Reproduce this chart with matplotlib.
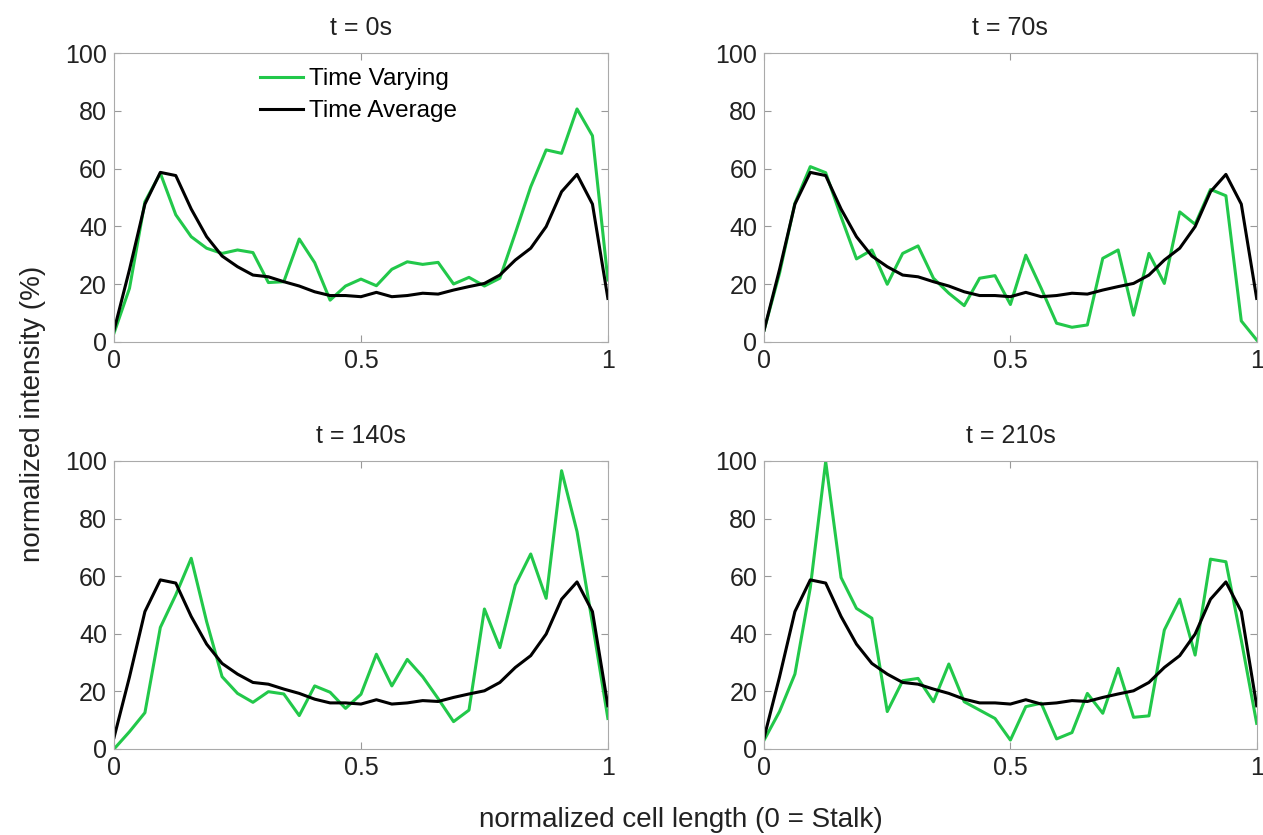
import numpy as np
import matplotlib
matplotlib.use("Agg")
from matplotlib import pyplot as plt

# 33 sample positions along the cell (0 = stalk)
x = np.linspace(0, 1, 33)

time_average = [4, 25, 47.7, 58.7, 57.6, 46, 36.4, 29.7, 26, 23.1, 22.5, 20.8, 19.3, 17.3, 16, 16,
                15.6, 17.1, 15.6, 16, 16.8, 16.5, 17.9, 19.1, 20.2, 23.1, 28.3, 32.4, 39.9, 52, 58, 47.7, 15]

t0 = [3, 18.5, 48.5, 58.4, 44, 36.4, 32.4, 30.6, 31.8, 30.9, 20.5, 20.8, 35.6, 27.4, 14.4, 19.3,
      21.7, 19.4, 25.1, 27.7, 26.8, 27.5, 20, 22.3, 19.3, 22, 37.6, 53.7, 66.5, 65.3, 80.7, 71.4, 21.4]
t70 = [4, 23.7, 48, 60.7, 58.6, 43.3, 28.7, 31.8, 19.9, 30.6, 33.2, 22, 16.8, 12.5, 22, 22.9,
       12.9, 30, 18.5, 6.4, 5, 5.8, 28.9, 31.8, 9.2, 30.6, 20.2, 45, 40.7, 52.8, 50.6, 7.2, 0.6]
t140 = [0, 6, 12.6, 42.2, 53.5, 66.2, 44.2, 25.1, 19.3, 16.2, 19.9, 19.1, 11.6, 21.9, 19.7, 14.1,
        19, 32.9, 21.9, 31.1, 25.1, 17.5, 9.5, 13.5, 48.6, 35.2, 56.9, 67.7, 52.3, 96.6, 75.5, 43.6, 10.6]
t210 = [3.1, 13, 26, 56, 99.8, 59.5, 48.8, 45.4, 13, 23.7, 24.5, 16.4, 29.5, 16.4, 13.5, 10.6,
        3.1, 14.7, 15.9, 3.5, 5.7, 19.3, 12.4, 28, 11, 11.5, 41.3, 52, 32.6, 65.9, 65, 37.8, 8.9]

titles = ["t = 0s", "t = 70s", "t = 140s", "t = 210s"]
varying = [t0, t70, t140, t210]

plt.rcParams['font.family'] = ['Liberation Sans', 'DejaVu Sans']

fig = plt.figure(figsize=(12.63, 8.35), dpi=100)
positions = [[0.0903, 0.5908, 0.391, 0.3454],
             [0.605, 0.5908, 0.390, 0.3454],
             [0.0903, 0.103, 0.391, 0.345],
             [0.605, 0.103, 0.390, 0.345]]

green = '#22c84a'
for k in range(4):
    ax = fig.add_axes(positions[k])
    ax.plot(x, varying[k], color=green, lw=2.2, label="Time Varying")
    ax.plot(x, time_average, color='black', lw=2.2, label="Time Average")
    ax.set_xlim(0, 1)
    ax.set_ylim(0, 100)
    ax.set_xticks([0, 0.5, 1])
    ax.set_xticklabels(["0", "0.5", "1"])
    ax.set_yticks([0, 20, 40, 60, 80, 100])
    ax.tick_params(direction='in', top=True, right=True, color='#999999',
                   labelsize=18, length=5, pad=5, labelcolor='#222222')
    for s in ax.spines.values():
        s.set_color('#aaaaaa')
    ax.set_title(titles[k], fontsize=18, pad=13, color='#222222')
    if k == 0:
        ax.legend(loc='upper left', bbox_to_anchor=(0.296, 0.948), frameon=False,
                  borderaxespad=0, borderpad=0, fontsize=17.5, handlelength=1.75,
                  labelspacing=0.4, handletextpad=0.25)

fig.text(0.539, 0.018, "normalized cell length (0 = Stalk)", ha='center', va='center',
         fontsize=20, color='#222222')
fig.text(0.026, 0.504, "normalized intensity (%)", ha='center', va='center',
         rotation=90, fontsize=20, color='#222222')

fig.savefig("out.png", dpi=100)
